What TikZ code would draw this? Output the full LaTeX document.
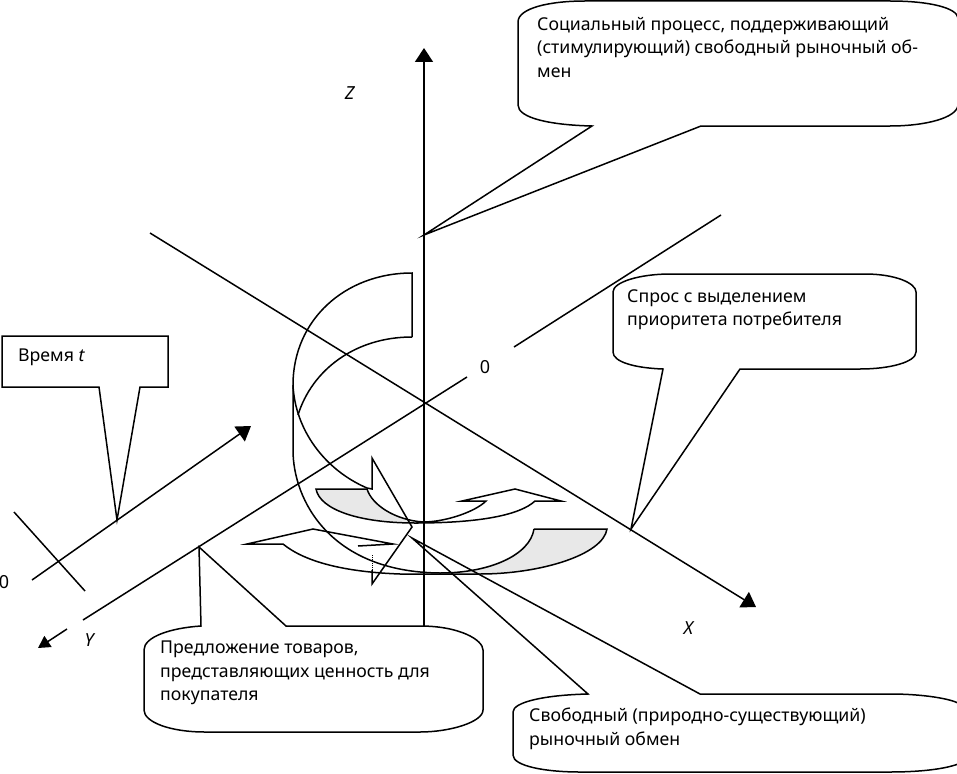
\documentclass[tikz,border=0pt]{standalone}
\usepackage{fontspec}
\setmainfont{Noto Sans}
\usetikzlibrary{arrows.meta}
\tikzset{
  ln/.style={draw=black,line width=1.5pt,line join=miter},
  axisarrow/.style={ln,-{Triangle[length=14pt,width=18pt]}},
  smallarrow/.style={ln,-{Triangle[length=12pt,width=13pt]}},
  lbl/.style={font=\fontsize{17.7}{23.5}\selectfont,align=left,anchor=north west,inner sep=0pt,text=black},
  axl/.style={font=\fontsize{18}{22}\selectfont,inner sep=0pt,text=black},
  shade/.style={fill=black!9,draw=none}
}
\begin{document}
\begin{tikzpicture}[x=1pt,y=-1pt]
\useasboundingbox (0,0) rectangle (957,773);
% shaded crescents
\fill[shade] (316,489) -- (367,489) .. controls (372,505) and (395,520) .. (423,523) -- (405,523)
  .. controls (360,520) and (320,510) .. (316,489) -- cycle;
\fill[shade] (534,529) -- (607,529) .. controls (603,555) and (540,574) .. (480,574) -- (450,573)
  .. controls (500,568) and (530,550) .. (534,529) -- cycle;
% axis coordinates
\coordinate (zb) at (424,626);
\coordinate (zt) at (424,48);
\coordinate (xa) at (150,233);
\coordinate (xb) at (756,607);
\coordinate (ya) at (721,215);
\coordinate (yb) at (514,347);
\coordinate (yc) at (467,377);
\coordinate (yd) at (83,620);
\coordinate (ye) at (67,629);
\coordinate (yf) at (38,648);
\coordinate (ta) at (32,580);
\coordinate (tb) at (251,426);
\coordinate (tk1) at (14,512);
\coordinate (tk2) at (85,591);
\draw[axisarrow] (zb) -- (zt);
\draw[axisarrow] (xa) -- (xb);
\draw[ln] (ya) -- (yb);
\draw[ln] (yc) -- (yd);
\draw[smallarrow] (ye) -- (yf);
\draw[axisarrow] (ta) -- (tb);
\draw[ln] (tk1) -- (tk2);
% big curved arrow
\draw[ln] (412,337) -- (412,273)
  .. controls (345,273) and (293,320) .. (293,385)
  -- (293,450) .. controls (293,500) and (330,572) .. (440,573)
  .. controls (490,573) and (530,555) .. (534,529);
\draw[ln] (412,337) .. controls (355,337) and (312,370) .. (298,415);
\draw[ln] (293,385) .. controls (295,430) and (325,470) .. (367,488) -- (372,489) -- (372,458) -- (412,527) -- (372,584) -- (372,570);
\draw[line width=1pt,densely dotted] (372,570) -- (372,555);
% upper arrow band
\draw[ln] (367,489) -- (316,489) .. controls (320,510) and (360,523) .. (415,523)
  .. controls (480,523) and (520,515) .. (535,501) -- (561,501) -- (515,489) -- (462,501) -- (486,501)
  .. controls (475,512) and (445,522) .. (423,522) .. controls (395,520) and (372,505) .. (367,489);
% lower arrow band
\draw[ln] (534,529) -- (607,529) .. controls (603,555) and (540,574) .. (480,574)
  -- (400,574) .. controls (345,572) and (305,562) .. (283,544) -- (247,544) -- (313,529) -- (393,544) -- (358,546);
% callouts
\draw[ln] (518,22) .. controls (518,8) and (550,1) .. (585,1) -- (890,1)
  .. controls (930,1) and (957,8) .. (958,18) -- (958,105) .. controls (957,118) and (925,126) .. (890,126)
  -- (701,126) -- (424,235) -- (592,126) .. controls (550,125) and (518,118) .. (518,105) -- cycle;
\draw[ln] (613,292) .. controls (613,282) and (640,274) .. (670,274) -- (865,274)
  .. controls (895,274) and (916,283) .. (916,292) -- (916,352) .. controls (916,362) and (890,369) .. (860,369)
  -- (740,369) -- (631,529) -- (663,369) .. controls (635,368) and (613,362) .. (613,352) -- cycle;
\draw[ln] (2,336) -- (168,336) -- (168,387) -- (140,387) -- (117,520) -- (99,387) -- (2,387) -- cycle;
\draw[ln] (144,650) .. controls (144,637) and (170,628) .. (201,626) -- (199,547) -- (286,626) -- (420,626)
  .. controls (460,626) and (483,640) .. (483,650) -- (483,710) .. controls (483,722) and (450,732) .. (420,732)
  -- (205,732) .. controls (170,732) and (144,722) .. (144,710) -- cycle;
\draw[ln] (513,712) .. controls (513,702) and (545,695) .. (588,694) -- (412,538) -- (700,694) -- (890,694)
  .. controls (925,694) and (950,699) .. (958,703) -- (958,764) .. controls (945,769) and (920,772) .. (890,772)
  -- (580,772) .. controls (545,772) and (513,766) .. (513,755) -- cycle;
% texts
\node[lbl] (t1) at (537,17) {Социальный процесс, поддерживающий\\(стимулирующий) свободный рыночный об-\\мен};
\node[lbl] (t2) at (627,289) {Спрос с выделением\\приоритета потребителя};
\node[lbl] (t3) at (18,349) {Время \textit{t}};
\node[lbl] (t4) at (160,641) {Предложение товаров,\\представляющих ценность для\\покупателя};
\node[lbl] (t5) at (529,708) {Свободный (природно-существующий)\\рыночный обмен};
\node[axl] (lz) at (350,93) {\textit{Z}};
\node[axl] (lx) at (689,628) {\textit{X}};
\node[axl] (ly) at (90,640) {\textit{Y}};
\node[axl] (o1) at (485,367) {0};
\node[axl] (o2) at (4,582) {0};
\end{tikzpicture}
\end{document}
